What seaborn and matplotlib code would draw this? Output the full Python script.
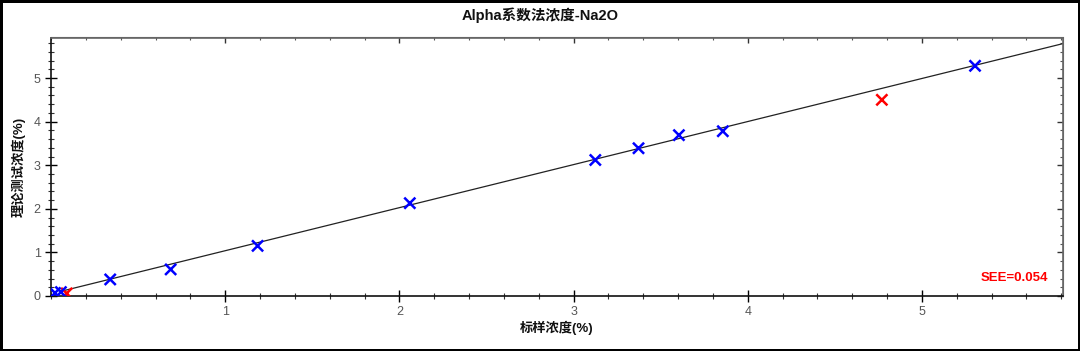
import matplotlib
matplotlib.use("Agg")
import matplotlib.pyplot as plt
import seaborn as sns
import numpy as np
import pandas as pd
from matplotlib.ticker import MultipleLocator, FixedLocator

# ---- data ----
std_conc = [0.09, 0.023, 0.057, 0.34, 0.687, 1.186, 2.06, 3.125, 3.373, 3.605, 3.857, 4.77, 5.305]
calc_conc = [0.06, 0.07, 0.09, 0.38, 0.61, 1.15, 2.13, 3.12, 3.39, 3.69, 3.78, 4.50, 5.28]
point_status = ["excluded", "used", "used", "used", "used", "used", "used",
                "used", "used", "used", "used", "excluded", "used"]
fit_x = [0.08, 5.81]
fit_y = [0.13, 5.79]
x_ticks = [1, 2, 3, 4, 5]
y_ticks = [0, 1, 2, 3, 4, 5]
title = "Alpha系数法浓度-Na2O"
x_label = "标样浓度(%)"
y_label = "理论测试浓度(%)"
see_text = "SEE=0.054"

df = pd.DataFrame({"std": std_conc, "calc": calc_conc, "status": point_status})
fit_df = pd.DataFrame({"x": fit_x, "y": fit_y})

sns.set_style("white")
fams = ['Liberation Sans', 'Noto Sans CJK SC', 'DejaVu Sans']
plt.rcParams['font.family'] = fams

fig = plt.figure(figsize=(10.8, 3.51), dpi=100)
fig.patch.set_edgecolor("black")
fig.patch.set_linewidth(2.5)
ax = fig.add_axes([51/1080, 1-296/351, (1063-51)/1080, (296-37.5)/351])

sns.lineplot(data=fit_df, x="x", y="y", ax=ax, color="#222222", linewidth=0.9,
             zorder=2, legend=False)
sns.scatterplot(data=df, x="std", y="calc", hue="status",
                palette={"used": "#0000ff", "excluded": "#ff0000"},
                hue_order=["excluded", "used"],
                marker="x", s=64, linewidth=1.8, ax=ax, legend=False, zorder=3)

ax.set_xlim(0, 5.81)
ax.set_ylim(0, 5.93)
ax.xaxis.set_major_locator(FixedLocator(x_ticks))
ax.yaxis.set_major_locator(FixedLocator(y_ticks))
ax.xaxis.set_minor_locator(MultipleLocator(0.2))
ax.yaxis.set_minor_locator(MultipleLocator(0.2))
ax.tick_params(axis="both", which="major", direction="inout", length=9, width=1.0,
               color="black", labelsize=9, labelcolor="#555555", pad=3,
               bottom=True, left=True, top=False, right=False)
ax.tick_params(axis="both", which="minor", direction="inout", length=5, width=0.8,
               color="#333333", bottom=True, left=True, top=False, right=False)

# top/right inward ticks
secx = ax.secondary_xaxis("top")
secx.xaxis.set_major_locator(FixedLocator(x_ticks))
secx.xaxis.set_minor_locator(MultipleLocator(0.2))
secx.tick_params(which="major", direction="in", length=4, width=1.0, color="#333333", labeltop=False)
secx.tick_params(which="minor", direction="in", length=2.5, width=0.8, color="#555555")
secx.spines["top"].set_color("#666666")
secy = ax.secondary_yaxis("right")
secy.yaxis.set_major_locator(FixedLocator(y_ticks))
secy.yaxis.set_minor_locator(MultipleLocator(0.2))
secy.tick_params(which="major", direction="in", length=4, width=1.0, color="#333333", labelright=False)
secy.tick_params(which="minor", direction="in", length=2.5, width=0.8, color="#555555")
secy.spines["right"].set_color("#666666")

for side in ["left", "bottom"]:
    ax.spines[side].set_color("#111111")
    ax.spines[side].set_linewidth(1.2)
for side in ["top", "right"]:
    ax.spines[side].set_color("#666666")
    ax.spines[side].set_linewidth(1.2)

ax.set_xlabel(x_label, fontsize=9.5, fontweight="bold", color="#111111", labelpad=2)
ax.set_ylabel(y_label, fontsize=9.5, fontweight="bold", color="#111111", labelpad=6)
fig.text(0.5, 1-15/351, title, ha="center", va="center", fontsize=10.5,
         fontweight="bold", color="#111111")
ax.text(0.985, 0.07, see_text, transform=ax.transAxes, ha="right", va="center",
        fontsize=9.5, fontweight="bold", color="#ff0000")

fig.savefig("out.png", dpi=100, edgecolor=fig.get_edgecolor())
